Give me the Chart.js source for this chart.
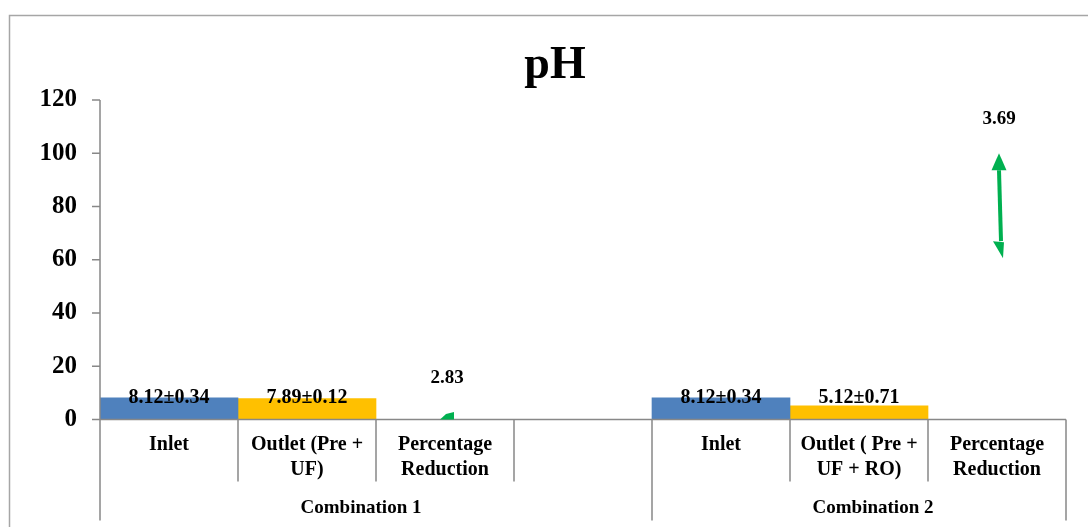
<!DOCTYPE html>
<html><head><meta charset="utf-8">
<script src="https://cdn.jsdelivr.net/npm/chart.js@4/dist/chart.umd.min.js"></script>
<style>html,body{margin:0;padding:0;background:#fff}</style>
</head><body>
<canvas id="c" width="1088" height="527"></canvas>
<script>
// ---- data ----
const categories = [['Inlet'], ['Outlet (Pre +', 'UF)'], ['Percentage', 'Reduction'], [''], ['Inlet'], ['Outlet ( Pre +', 'UF + RO)'], ['Percentage', 'Reduction']];
const groups = ['Combination 1', 'Combination 2'];
const groupSpans = [[0, 3], [4, 6]];
const inletMean = [8.12, null, null, null, 8.12, null, null];
const inletSD = [0.34, null, null, null, 0.34, null, null];
const outletMean = [null, 7.89, null, null, null, 5.12, null];
const outletSD = [null, 0.12, null, null, null, 0.71, null];
const reductionValue = [null, null, 2.83, null, null, null, 3.69];
const reductionArrow = [null, null, [0, 2.83], null, null, null, [60.6, 100]];
const yMin = 0, yMax = 120, yStep = 20;
const chartTitle = 'pH';

const FONT = "'Liberation Serif', 'Times New Roman', serif";
const AXIS = '#888888';
const groupLabelShift = [-15, 14];

const decor = {
  id: 'decor',
  beforeDraw(chart) {
    const c = chart.ctx;
    c.save();
    c.strokeStyle = '#a6a6a6';
    c.lineWidth = 1.5;
    c.strokeRect(9.5, 15.5, 1200, 600);
    c.fillStyle = '#000';
    c.textAlign = 'center'; c.textBaseline = 'alphabetic';
    c.font = 'bold 46px ' + FONT;
    c.fillText(chartTitle, 555, 78);
    c.restore();
  },
  afterDatasetsDraw(chart) {
    const c = chart.ctx, x = chart.scales.x, y = chart.scales.y;
    const area = chart.chartArea;
    c.save();
    // axes
    c.strokeStyle = AXIS; c.lineWidth = 1.5;
    c.beginPath();
    c.moveTo(area.left, y.getPixelForValue(yMax)); c.lineTo(area.left, y.getPixelForValue(0));
    c.lineTo(area.right, y.getPixelForValue(0));
    for (let v = yMin; v <= yMax; v += yStep) {
      const py = y.getPixelForValue(v);
      c.moveTo(area.left - 8, py); c.lineTo(area.left, py);
    }
    const n = categories.length;
    const half = (x.getPixelForValue(1) - x.getPixelForValue(0)) / 2;
    const y0 = y.getPixelForValue(0);
    const bounds = [];
    for (let i = 0; i <= n; i++) bounds.push(i < n ? x.getPixelForValue(i) - half : x.getPixelForValue(n - 1) + half);
    const groupEdges = new Set();
    groupSpans.forEach(s => { groupEdges.add(s[0]); groupEdges.add(s[1] + 1); });
    bounds.forEach((bx, i) => {
      c.moveTo(bx, y0); c.lineTo(bx, groupEdges.has(i) ? y0 + 101 : y0 + 62);
    });
    c.stroke();

    // category labels
    c.fillStyle = '#000';
    c.textAlign = 'center'; c.textBaseline = 'middle';
    c.font = 'bold 20px ' + FONT;
    categories.forEach((lab, i) => {
      const cx = x.getPixelForValue(i);
      lab.forEach((t, k) => c.fillText(t, cx, y0 + 25 + k * 25));
    });
    c.font = 'bold 19px ' + FONT;
    groups.forEach((g, gi) => {
      const s = groupSpans[gi];
      const cx = (bounds[s[0]] + bounds[s[1] + 1]) / 2 + groupLabelShift[gi];
      c.fillText(g, cx, y0 + 89);
    });

    // bar value labels
    c.font = 'bold 20px ' + FONT;
    const m0 = chart.getDatasetMeta(0), m1 = chart.getDatasetMeta(1), m2 = chart.getDatasetMeta(2);
    groupSpans.forEach(s => {
      let top = Infinity;
      for (let i = s[0]; i <= s[1]; i++) {
        if (inletMean[i] != null) top = Math.min(top, m0.data[i].y);
        if (outletMean[i] != null) top = Math.min(top, m1.data[i].y);
      }
      for (let i = s[0]; i <= s[1]; i++) {
        if (inletMean[i] != null) c.fillText(inletMean[i].toFixed(2) + '±' + inletSD[i].toFixed(2), m0.data[i].x, top);
        if (outletMean[i] != null) c.fillText(outletMean[i].toFixed(2) + '±' + outletSD[i].toFixed(2), m1.data[i].x, top);
      }
    });

    // arrows
    c.strokeStyle = '#00B050'; c.fillStyle = '#00B050';
    reductionArrow.forEach((r, i) => {
      if (!r) return;
      const el = m2.data[i];
      const ax = el.x + 2, yt = el.y, yb = el.base;
      const len = yb - yt;
      const hl = Math.min(17, len * 0.9), hw = 7.5;
      c.lineWidth = 4;
      if (len > 2 * hl) {
        c.beginPath(); c.moveTo(ax, yt + hl); c.lineTo(ax + 2, yb - hl); c.stroke();
        c.beginPath(); c.moveTo(ax, yt); c.lineTo(ax - hw, yt + hl); c.lineTo(ax + hw, yt + hl); c.closePath(); c.fill();
        c.beginPath(); c.moveTo(ax + 4, yb); c.lineTo(ax - 6, yb - hl); c.lineTo(ax + 5, yb - hl + 1); c.closePath(); c.fill();
      } else {
        c.beginPath(); c.moveTo(ax - 7, yb); c.lineTo(ax - 1, yt + 2); c.lineTo(ax + 7, yt); c.lineTo(ax + 7, yb); c.closePath(); c.fill();
      }
      c.fillStyle = '#000';
      c.font = 'bold 19px ' + FONT;
      c.fillText(reductionValue[i].toFixed(2), ax, yt - 34);
      c.fillStyle = '#00B050';
    });
    c.restore();
  }
};

new Chart(document.getElementById('c'), {
  type: 'bar',
  data: {
    labels: categories,
    datasets: [
      { label: 'Inlet', data: inletMean, backgroundColor: '#4F81BD', skipNull: true },
      { label: 'Outlet', data: outletMean, backgroundColor: '#FFC000', skipNull: true },
      { label: 'Percentage Reduction', data: reductionArrow, backgroundColor: 'rgba(0,0,0,0)', skipNull: true }
    ]
  },
  options: {
    responsive: false,
    animation: false,
    devicePixelRatio: 1,
    categoryPercentage: 1,
    barPercentage: 1,
    layout: { padding: { left: 0, right: 22, top: 100, bottom: 0 } },
    plugins: {
      legend: { display: false },
      tooltip: { enabled: false },
      title: { display: false }
    },
    scales: {
      x: {
        offset: true,
        grid: { display: false, drawTicks: false },
        border: { display: false },
        ticks: { display: false },
        afterFit(s) { s.height = 107.5; }
      },
      y: {
        min: yMin, max: yMax,
        grid: { display: false, drawTicks: false },
        border: { display: false },
        ticks: { stepSize: yStep, color: '#000', padding: 23, font: { family: FONT, size: 25, weight: 'bold' } },
        afterFit(s) { s.width = 100; }
      }
    }
  },
  plugins: [decor]
});
</script>
</body></html>
